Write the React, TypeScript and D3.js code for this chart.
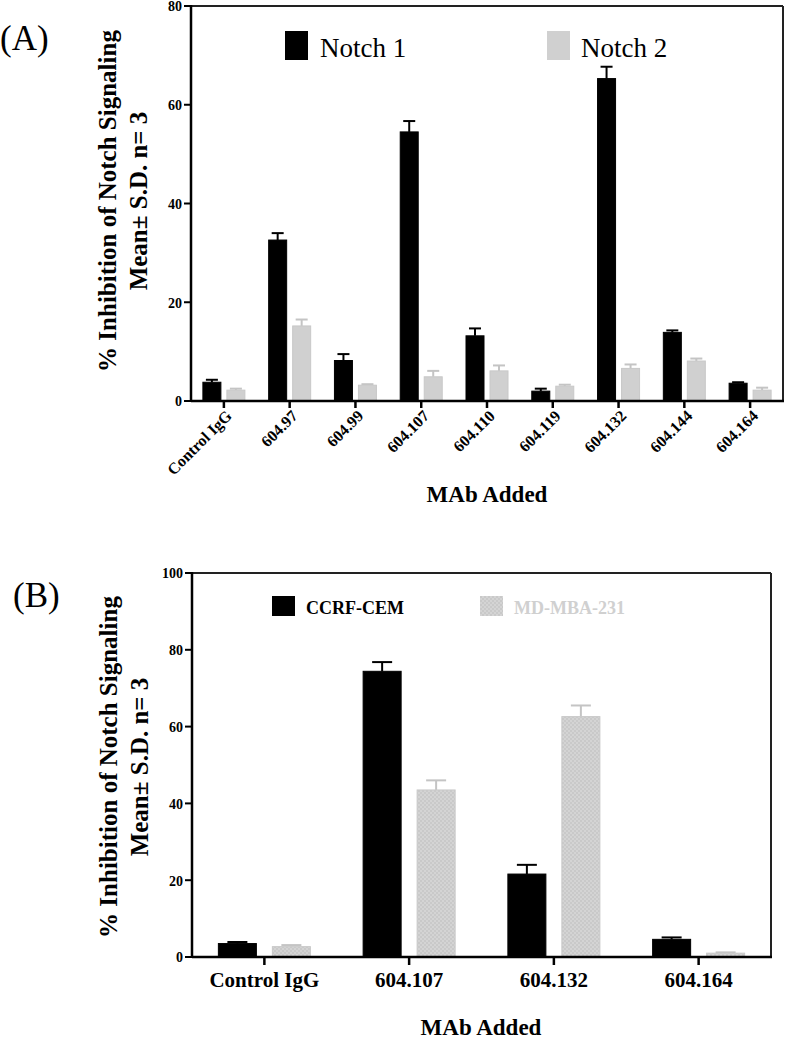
import React from 'react';
import * as d3 from 'd3';

// ---------- Panel A data ----------
const catsA = ['Control IgG', '604.97', '604.99', '604.107', '604.110', '604.119', '604.132', '604.144', '604.164'];
const notch1 = [3.8, 32.6, 8.2, 54.5, 13.2, 2.0, 65.3, 13.9, 3.6];
const notch1Sd = [0.5, 1.4, 1.3, 2.2, 1.5, 0.5, 2.4, 0.4, 0.2];
const notch2 = [2.2, 15.2, 3.2, 4.9, 6.1, 3.0, 6.6, 8.1, 2.2];
const notch2Sd = [0.3, 1.3, 0.2, 1.2, 1.1, 0.3, 0.8, 0.5, 0.5];
const ticksA = [0, 20, 40, 60, 80];
const seriesA = ['Notch 1', 'Notch 2'];

// ---------- Panel B data ----------
const catsB = ['Control IgG', '604.107', '604.132', '604.164'];
const ccrf = [3.5, 74.4, 21.6, 4.6];
const ccrfSd = [0.4, 2.4, 2.4, 0.5];
const mda = [2.7, 43.5, 62.6, 1.0];
const mdaSd = [0.4, 2.5, 2.9, 0.2];
const ticksB = [0, 20, 40, 60, 80, 100];
const seriesB = ['CCRF-CEM', 'MD-MBA-231'];

const SERIF = '"Liberation Serif", "DejaVu Serif", serif';
const BLACK = '#000';
const GRAY = '#d0d0d0';

type Panel = {
  left: number; right: number; top: number; bottom: number;
  cats: string[]; max: number; ticks: number[];
  s1: number[]; s1sd: number[]; s2: number[]; s2sd: number[];
  inner: number; innerPad: number; cap: number; rotate: boolean;
  fill2: string;
};

function BarPanel(p: Panel) {
  const x = d3.scaleBand<string>().domain(p.cats).range([p.left, p.right]).padding(0);
  const y = d3.scaleLinear().domain([0, p.max]).range([p.bottom, p.top]);
  const xi = d3.scaleBand<string>().domain(['a', 'b']).range([-p.inner, p.inner]).paddingInner(p.innerPad);
  const bw = xi.bandwidth();
  const series = [
    { key: 'a', vals: p.s1, sds: p.s1sd, fill: BLACK, stroke: BLACK, err: BLACK },
    { key: 'b', vals: p.s2, sds: p.s2sd, fill: p.fill2, stroke: '#c8c8c8', err: '#c4c4c4' },
  ];
  return (
    <g>
      {p.cats.map((c, i) => {
        const cx = (x(c) as number) + x.bandwidth() / 2;
        return (
          <g key={c}>
            {series.map((s) => {
              const x0 = cx + (xi(s.key) as number);
              const v = s.vals[i];
              const sd = s.sds[i];
              const mid = x0 + bw / 2;
              return (
                <g key={s.key}>
                  <line x1={mid} x2={mid} y1={y(v)} y2={y(v + sd)} stroke={s.err} strokeWidth={2} />
                  <line x1={mid - p.cap / 2} x2={mid + p.cap / 2} y1={y(v + sd)} y2={y(v + sd)} stroke={s.err} strokeWidth={2} />
                  <rect x={x0} y={y(v)} width={bw} height={y(0) - y(v)} fill={s.fill} stroke={s.stroke} strokeWidth={1} />
                </g>
              );
            })}
            <line x1={cx} x2={cx} y1={p.bottom} y2={p.bottom + (p.rotate ? 7 : 8)} stroke={BLACK} strokeWidth={2.5} />
            {p.rotate ? (
              <text
                transform={`translate(${cx + 5},${p.bottom + 12}) rotate(-45)`}
                textAnchor="end"
                fontFamily={SERIF}
                fontWeight="bold"
                fontSize={16}
                dy="0.35em"
              >
                {c}
              </text>
            ) : (
              <text x={cx} y={p.bottom + 30} textAnchor="middle" fontFamily={SERIF} fontWeight="bold" fontSize={21}>
                {c}
              </text>
            )}
          </g>
        );
      })}
      {/* frame */}
      <line x1={p.left} x2={p.right} y1={p.top} y2={p.top} stroke="#222" strokeWidth={2} />
      <line x1={p.right} x2={p.right} y1={p.top} y2={p.bottom} stroke="#222" strokeWidth={2} />
      <line x1={p.left} x2={p.right + 1} y1={p.bottom} y2={p.bottom} stroke={BLACK} strokeWidth={2.5} />
      <line x1={p.left} x2={p.left} y1={p.top - 1} y2={p.bottom + 1} stroke={BLACK} strokeWidth={2.5} />
      {p.ticks.map((t) => (
        <g key={t}>
          <line x1={p.left - 7} x2={p.left} y1={y(t)} y2={y(t)} stroke={BLACK} strokeWidth={2} />
          <text x={p.left - 9} y={y(t)} dy="0.38em" textAnchor="end" fontFamily={SERIF} fontWeight="bold" fontSize={14}>
            {t}
          </text>
        </g>
      ))}
    </g>
  );
}

export default function App() {
  const pA: Panel = {
    left: 191, right: 783, top: 6, bottom: 401, cats: catsA, max: 80, ticks: ticksA,
    s1: notch1, s1sd: notch1Sd, s2: notch2, s2sd: notch2Sd, inner: 21, innerPad: 0.25, cap: 12, rotate: true,
    fill2: GRAY,
  };
  const pB: Panel = {
    left: 192, right: 771, top: 573, bottom: 957, cats: catsB, max: 100, ticks: ticksB,
    s1: ccrf, s1sd: ccrfSd, s2: mda, s2sd: mdaSd, inner: 46, innerPad: 0.296, cap: 20, rotate: false,
    fill2: 'url(#checks)',
  };
  return (
    <svg width={787} height={1039} style={{ position: 'absolute', left: 0, top: 0, background: '#fff' }}>
      <defs>
        <pattern id="checks" width={4} height={4} patternUnits="userSpaceOnUse">
          <rect width={4} height={4} fill="#d4d4d4" />
          <rect width={2} height={2} fill="#c9c9c9" />
          <rect x={2} y={2} width={2} height={2} fill="#c9c9c9" />
        </pattern>
      </defs>
      <rect width={787} height={1039} fill="#fff" />

      {/* Panel A */}
      <text x={0} y={50} fontFamily={SERIF} fontSize={35}>(A)</text>
      <BarPanel {...pA} />
      <g fontFamily={SERIF} fontWeight="bold" fontSize={25} textAnchor="middle">
        <text transform="translate(116,201) rotate(-90)">% Inhibition of Notch Signaling</text>
        <text transform="translate(147,201) rotate(-90)">Mean± S.D. n= 3</text>
      </g>
      <text x={487} y={502} textAnchor="middle" fontFamily={SERIF} fontWeight="bold" fontSize={23}>MAb Added</text>
      {/* legend A */}
      <rect x={285} y={31} width={23} height={29} fill={BLACK} />
      <text x={320} y={57} fontFamily={SERIF} fontSize={27}>{seriesA[0]}</text>
      <rect x={547} y={31} width={23} height={29} fill={GRAY} />
      <text x={581} y={57} fontFamily={SERIF} fontSize={27}>{seriesA[1]}</text>

      {/* Panel B */}
      <text x={13} y={607} fontFamily={SERIF} fontSize={35}>(B)</text>
      <BarPanel {...pB} />
      <g fontFamily={SERIF} fontWeight="bold" fontSize={25} textAnchor="middle">
        <text transform="translate(117,767) rotate(-90)">% Inhibition of Notch Signaling</text>
        <text transform="translate(148,767) rotate(-90)">Mean± S.D. n= 3</text>
      </g>
      <text x={481} y={1035} textAnchor="middle" fontFamily={SERIF} fontWeight="bold" fontSize={23}>MAb Added</text>
      {/* legend B */}
      <rect x={272} y={596} width={23} height={20} fill={BLACK} />
      <text x={306} y={614} fontFamily={SERIF} fontWeight="bold" fontSize={18}>{seriesB[0]}</text>
      <rect x={480} y={596} width={23} height={20} fill="url(#checks)" />
      <text x={514} y={614} fontFamily={SERIF} fontWeight="bold" fontSize={18} fill={GRAY}>{seriesB[1]}</text>
    </svg>
  );
}
